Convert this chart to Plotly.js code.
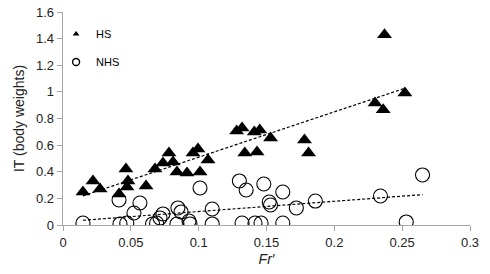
<!DOCTYPE html>
<html>
<head>
<meta charset="utf-8">
<script src="https://cdn.plot.ly/plotly-3.0.1.min.js"></script>
<style>html,body{margin:0;padding:0;background:#fff;}#chart{width:490px;height:274px;}</style>
</head>
<body>
<div id="chart"></div>
<script>
const hsFr = [0.0147,0.0221,0.0273,0.0413,0.0464,0.0479,0.0472,0.0612,0.0678,0.0737,0.0781,0.0811,0.0840,0.0914,0.0958,0.0995,0.1069,0.1010,0.128,0.132,0.141,0.145,0.153,0.134,0.143,0.178,0.181,0.230,0.236,0.237,0.252];
const hsIT = [0.248,0.331,0.271,0.233,0.421,0.331,0.286,0.293,0.421,0.466,0.541,0.474,0.398,0.391,0.541,0.571,0.489,0.398,0.707,0.729,0.699,0.714,0.654,0.541,0.549,0.639,0.541,0.917,0.865,1.429,0.992];
const nhsFr = [0.0147,0.0413,0.0567,0.0523,0.042,0.047,0.066,0.069,0.0715,0.0737,0.0847,0.087,0.084,0.0929,0.0936,0.101,0.110,0.110,0.130,0.135,0.148,0.162,0.152,0.153,0.172,0.186,0.132,0.1415,0.146,0.162,0.234,0.265,0.253];
const nhsIT = [0.015,0.188,0.165,0.090,0.008,0.015,0.008,0.015,0.053,0.083,0.128,0.098,0.008,0.030,0.008,0.278,0.120,0.008,0.331,0.263,0.308,0.248,0.173,0.150,0.128,0.180,0.015,0.015,0.015,0.015,0.218,0.376,0.023];
const xTicks = [0,0.05,0.1,0.15,0.2,0.25,0.3];
const yTicks = [0,0.2,0.4,0.6,0.8,1,1.2,1.4,1.6];

function fit(xs, ys){
  const n = xs.length;
  let sx=0, sy=0, sxx=0, sxy=0;
  for(let i=0;i<n;i++){sx+=xs[i];sy+=ys[i];sxx+=xs[i]*xs[i];sxy+=xs[i]*ys[i];}
  const b = (n*sxy - sx*sy)/(n*sxx - sx*sx);
  const a = (sy - b*sx)/n;
  const x0 = Math.min(...xs), x1 = Math.max(...xs);
  return {x:[x0,x1], y:[a+b*x0, a+b*x1]};
}
const fH = fit(hsFr, hsIT), fN = fit(nhsFr, nhsIT);

const traces = [
  {x: fH.x, y: fH.y, mode:'lines', line:{color:'#000', width:1.2, dash:'3px,2px'}, showlegend:false, hoverinfo:'skip'},
  {x: fN.x, y: fN.y, mode:'lines', line:{color:'#000', width:1.2, dash:'3px,2px'}, showlegend:false, hoverinfo:'skip'},
  {x: hsFr, y: hsIT, mode:'markers', name:'HS', showlegend:false, marker:{symbol:'triangle-up', size:13, color:'#000', line:{width:0}}},
  {x: nhsFr, y: nhsIT, mode:'markers', name:'NHS', showlegend:false, marker:{symbol:'circle-open', size:14, color:'#000', line:{width:1.1, color:'#000'}}},
  // legend keys (small symbols, as in the reference)
  {x:[null], y:[null], mode:'markers', name:'HS', legendgroup:'a', marker:{symbol:'triangle-up', size:6, color:'#000', line:{width:0}}},
  {x:[null], y:[null], mode:'markers', name:'NHS', legendgroup:'b', marker:{symbol:'circle-open', size:7, color:'#000', line:{width:1.4, color:'#000'}}}
];

const axisCommon = {showgrid:false, zeroline:false, showline:true, linecolor:'#a6a6a6', linewidth:1.3, ticks:'outside', ticklen:5, tickcolor:'#a6a6a6', tickwidth:1, tickfont:{family:'Liberation Sans, Arial, sans-serif', size:13, color:'#222'}};

const layout = {
  width:490, height:274,
  margin:{l:63, r:20, t:12, b:49},
  paper_bgcolor:'#fff', plot_bgcolor:'#fff',
  showlegend:true,
  legend:{x:-0.017, y:0.965, xanchor:'left', yanchor:'top', traceorder:'grouped', bgcolor:'rgba(0,0,0,0)', font:{family:'Liberation Sans, Arial, sans-serif', size:11, color:'#000'}, tracegroupgap:9},
  xaxis: Object.assign({}, axisCommon, {range:[0,0.3], tickvals:xTicks, ticktext:xTicks.map(String), title:{text:'<i>Fr′</i>', font:{family:'Liberation Sans, Arial, sans-serif', size:14, color:'#222'}, standoff:5}}),
  yaxis: Object.assign({}, axisCommon, {range:[0,1.6], tickvals:yTicks, ticktext:yTicks.map(String), title:{text:'IT (body weights)', font:{family:'Liberation Sans, Arial, sans-serif', size:14, color:'#222'}, standoff:8}})
};

Plotly.newPlot('chart', traces, layout, {displayModeBar:false, staticPlot:true});
</script>
</body>
</html>
